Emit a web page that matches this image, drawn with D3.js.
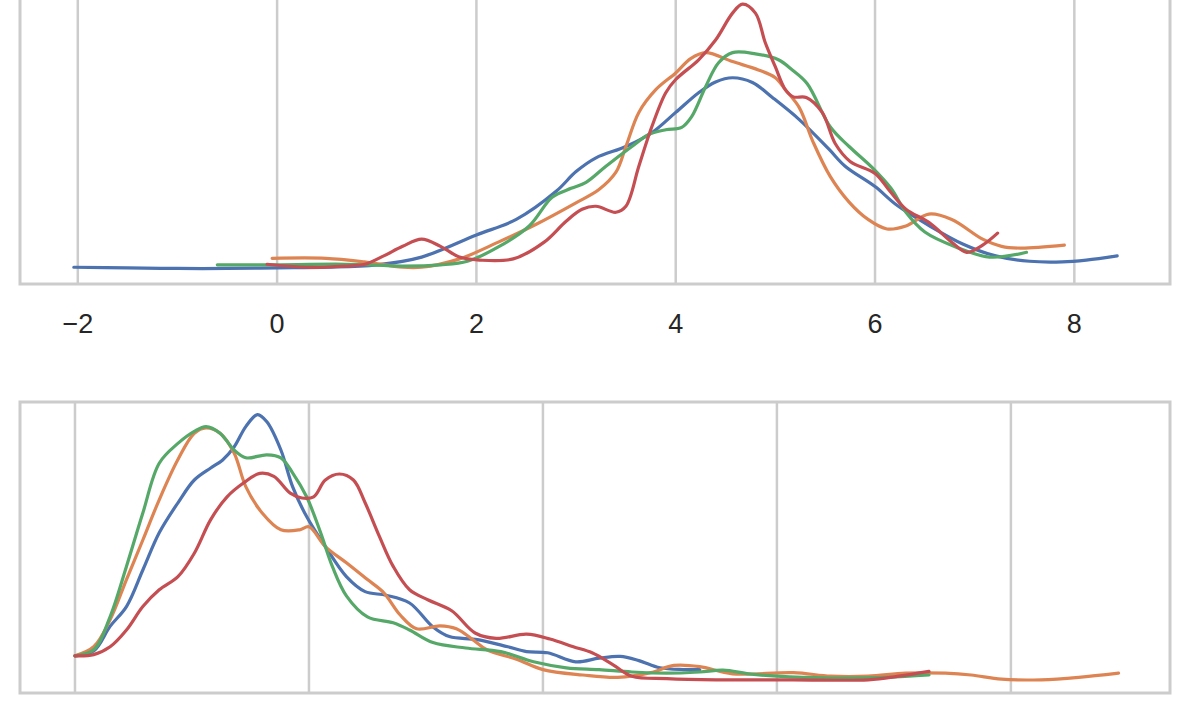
<!DOCTYPE html>
<html>
<head>
<meta charset="utf-8">
<script src="https://cdn.jsdelivr.net/npm/d3@7"></script>
<style>
  html, body { margin: 0; padding: 0; background: #fff; }
</style>
</head>
<body>
<div id="chart"></div>
<script>
(() => {
  const width = 1200;
  const height = 706;

  // seaborn "deep" palette, one colour per series
  const seriesNames = ["blue", "orange", "green", "red"];
  const seriesColors = ["#4c72b0", "#dd8452", "#55a868", "#c44e52"];

  // top panel ticks
  const topTicks = [-2, 0, 2, 4, 6, 8];
  const topTickLabels = ["\u22122", "0", "2", "4", "6", "8"];
  // bottom panel gridlines (no labels shown)
  const bottomTicks = [0, 1, 2, 3, 4];

  // top panel densities [x, density]
  const topBlue = [[-2.04,.003],[-1.5,.002],[-1,.001],[-0.5,.001],[0,.002],[0.5,.003],[1,.007],[1.45,.02],[2,.057],[2.4,.083],[2.8,.13],[3.0,.163],[3.2,.186],[3.5,.205],[3.76,.228],[4,.262],[4.23,.295],[4.4,.313],[4.57,.32],[4.77,.312],[4.97,.287],[5.24,.25],[5.54,.2],[5.7,.172],[6,.138],[6.21,.108],[6.55,.072],[6.88,.042],[7.21,.022],[7.55,.013],[7.88,.012],[8.12,.015],[8.43,.022]];
  const topOrange = [[-0.05,.018],[0.49,.018],[0.875,.012],[1.26,.003],[1.45,.003],[1.83,.017],[2.22,.045],[2.6,.075],[2.99,.11],[3.23,.133],[3.4,.162],[3.5,.205],[3.63,.262],[3.8,.3],[4,.328],[4.15,.352],[4.3,.362],[4.57,.347],[4.83,.333],[5.0,.32],[5.1,.3],[5.24,.27],[5.38,.212],[5.55,.155],[5.74,.112],[5.93,.083],[6.12,.067],[6.31,.072],[6.54,.092],[6.77,.083],[7.08,.05],[7.27,.038],[7.46,.035],[7.9,.04]];
  const topGreen = [[-0.6,.007],[-0.08,.007],[0.68,.008],[1.26,.005],[1.64,.007],[1.91,.013],[2.22,.037],[2.53,.072],[2.76,.12],[2.95,.135],[3.1,.145],[3.3,.172],[3.56,.205],[3.73,.225],[3.9,.233],[4.06,.237],[4.16,.255],[4.3,.305],[4.43,.345],[4.57,.362],[4.8,.36],[5.03,.35],[5.17,.333],[5.32,.31],[5.55,.238],[5.74,.205],[5.97,.17],[6.16,.135],[6.31,.095],[6.5,.062],[6.81,.037],[7.15,.02],[7.52,.028]];
  const topRed = [[-0.1,.008],[0.3,.003],[0.68,.005],[0.88,.008],[1.07,.022],[1.26,.038],[1.45,.05],[1.64,.038],[1.83,.02],[2.03,.015],[2.37,.017],[2.68,.045],[2.9,.08],[3.06,.1],[3.2,.105],[3.4,.095],[3.5,.105],[3.63,.172],[3.76,.238],[3.9,.295],[4.0,.317],[4.23,.35],[4.4,.383],[4.57,.428],[4.67,.443],[4.8,.428],[4.9,.378],[5.0,.338],[5.1,.3],[5.18,.288],[5.31,.287],[5.47,.262],[5.6,.21],[5.75,.18],[6.0,.16],[6.15,.13],[6.31,.1],[6.54,.078],[6.77,.045],[6.92,.028],[7.08,.04],[7.23,.06]];

  // bottom panel densities [x, density]
  const bottomBlue = [[0,.04],[0.08,.048],[0.15,.089],[0.22,.122],[0.29,.183],[0.36,.245],[0.44,.295],[0.51,.333],[0.58,.353],[0.63,.366],[0.68,.388],[0.73,.422],[0.78,.442],[0.82,.43],[0.88,.383],[0.93,.322],[0.99,.272],[1.07,.222],[1.16,.172],[1.24,.147],[1.33,.141],[1.43,.128],[1.53,.088],[1.6,.072],[1.72,.067],[1.85,.055],[1.93,.047],[2.02,.045],[2.14,.03],[2.24,.036],[2.33,.039],[2.41,.032],[2.5,.02],[2.6,.017],[2.67,.017]];
  const bottomOrange = [[0,.04],[0.08,.055],[0.15,.1],[0.22,.167],[0.29,.233],[0.36,.3],[0.44,.367],[0.51,.411],[0.56,.42],[0.62,.411],[0.68,.378],[0.73,.322],[0.8,.278],[0.88,.25],[0.96,.25],[1.0,.255],[1.07,.222],[1.16,.195],[1.25,.167],[1.32,.145],[1.39,.108],[1.46,.085],[1.56,.09],[1.63,.085],[1.7,.067],[1.76,.05],[1.89,.034],[2.0,.017],[2.17,.008],[2.32,.004],[2.46,.012],[2.56,.024],[2.67,.022],[2.81,.01],[3.07,.012],[3.23,.006],[3.39,.006],[3.55,.011],[3.72,.011],[3.83,.008],[3.96,.001],[4.13,0],[4.29,.004],[4.46,.011]];
  const bottomGreen = [[0,.04],[0.08,.05],[0.15,.105],[0.22,.189],[0.29,.278],[0.36,.361],[0.44,.394],[0.51,.414],[0.56,.422],[0.62,.411],[0.68,.383],[0.73,.37],[0.82,.375],[0.88,.37],[0.93,.345],[0.99,.305],[1.05,.245],[1.1,.189],[1.16,.14],[1.25,.105],[1.36,.095],[1.43,.083],[1.53,.062],[1.67,.053],[1.82,.047],[1.96,.03],[2.1,.02],[2.24,.017],[2.38,.013],[2.53,.011],[2.67,.013],[2.77,.016],[2.88,.01],[3.0,.006],[3.23,.003],[3.47,.004],[3.65,.008]];
  const bottomRed = [[0,.04],[0.08,.042],[0.15,.055],[0.22,.083],[0.29,.122],[0.36,.15],[0.44,.172],[0.51,.211],[0.58,.267],[0.65,.305],[0.72,.328],[0.79,.344],[0.85,.339],[0.92,.311],[0.97,.303],[1.02,.305],[1.07,.333],[1.13,.343],[1.19,.333],[1.24,.295],[1.3,.24],[1.36,.189],[1.43,.15],[1.51,.133],[1.61,.115],[1.71,.078],[1.8,.069],[1.93,.076],[2.03,.068],[2.13,.055],[2.21,.045],[2.3,.025],[2.38,.006],[2.53,.002],[2.74,0],[3.07,0],[3.39,0],[3.52,.006],[3.65,.014]];

  const topSeries = [topBlue, topOrange, topGreen, topRed];
  const bottomSeries = [bottomBlue, bottomOrange, bottomGreen, bottomRed];

  const color = d3.scaleOrdinal().domain(seriesNames).range(seriesColors);

  const svg = d3.select("#chart")
    .append("svg")
    .attr("width", width)
    .attr("height", height)
    .attr("viewBox", `0 0 ${width} ${height}`)
    .style("display", "block")
    .style("background", "#fff");

  // panel boxes (top one runs off the top of the picture)
  const panels = [
    {
      series: topSeries,
      ticks: topTicks,
      labels: topTickLabels,
      x: d3.scaleLinear().domain([-2.58, 8.96]).range([20, 1170]),
      y: d3.scaleLinear().domain([-0.025, 0.45]).range([284, 0]),
      top: -20, bottom: 284
    },
    {
      series: bottomSeries,
      ticks: bottomTicks,
      labels: null,
      x: d3.scaleLinear().domain([-0.235, 4.68]).range([20, 1170]),
      y: d3.scaleLinear().domain([-0.022, 0.463]).range([693, 402]),
      top: 402, bottom: 693
    }
  ];

  panels.forEach((p, i) => {
    const g = svg.append("g").attr("class", "panel-" + i);

    const clipId = "clip-" + i;
    g.append("clipPath").attr("id", clipId)
      .append("rect")
      .attr("x", 20).attr("y", p.top)
      .attr("width", 1150).attr("height", p.bottom - p.top);

    // vertical gridlines
    g.append("g")
      .selectAll("line")
      .data(p.ticks)
      .join("line")
      .attr("x1", d => p.x(d)).attr("x2", d => p.x(d))
      .attr("y1", p.top).attr("y2", p.bottom)
      .attr("stroke", "#cccccc")
      .attr("stroke-width", 2.5);

    const line = d3.line()
      .x(d => p.x(d[0]))
      .y(d => p.y(d[1]))
      .curve(d3.curveCatmullRom.alpha(0.5));

    g.append("g")
      .attr("clip-path", `url(#${clipId})`)
      .selectAll("path")
      .data(p.series)
      .join("path")
      .attr("fill", "none")
      .attr("stroke", (d, j) => color(seriesNames[j]))
      .attr("stroke-width", 3.2)
      .attr("stroke-linejoin", "round")
      .attr("stroke-linecap", "round")
      .attr("d", line);

    // frame
    g.append("rect")
      .attr("x", 20).attr("y", p.top)
      .attr("width", 1150).attr("height", p.bottom - p.top)
      .attr("fill", "none")
      .attr("stroke", "#cccccc")
      .attr("stroke-width", 3);

    if (p.labels) {
      g.append("g")
        .attr("font-family", "'Liberation Sans', Arial, sans-serif")
        .attr("font-size", 27)
        .attr("fill", "#262626")
        .attr("text-anchor", "middle")
        .selectAll("text")
        .data(p.ticks)
        .join("text")
        .attr("x", d => p.x(d))
        .attr("y", 333)
        .text((d, j) => p.labels[j]);
    }
  });
})();
</script>
</body>
</html>
